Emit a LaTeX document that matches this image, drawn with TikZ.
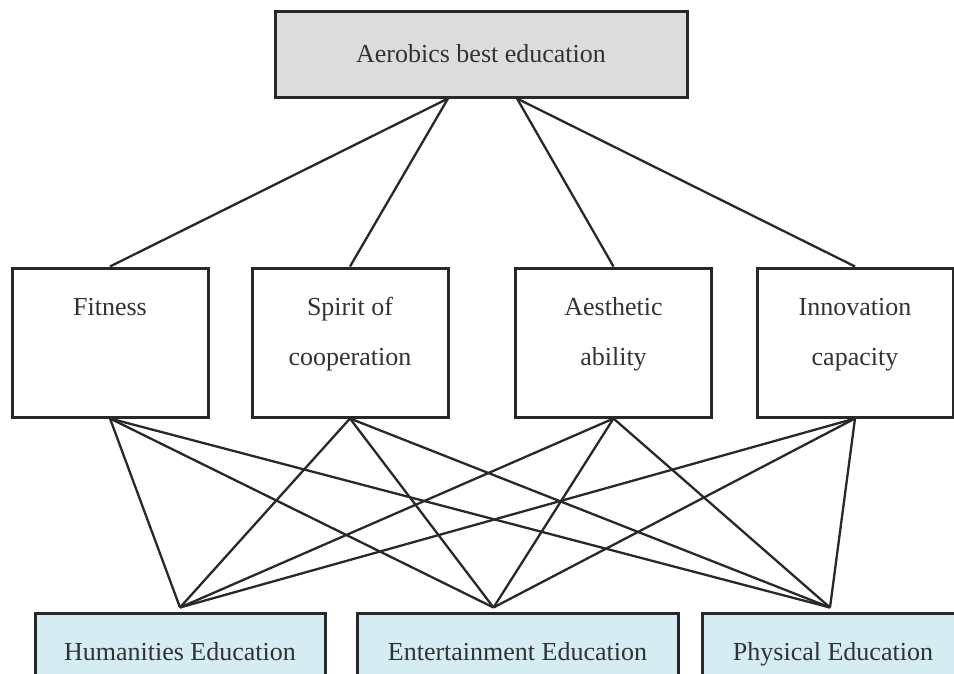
\documentclass[tikz,border=0pt]{standalone}
\usepackage{fontspec}
\setmainfont{Liberation Serif}

\definecolor{linegray}{RGB}{40,40,40}
\definecolor{textgray}{RGB}{50,50,50}
\definecolor{topfill}{RGB}{220,220,220}
\definecolor{botfill}{RGB}{213,236,243}

% text of the middle boxes sits at the top of the box
\newcommand\boxtext[1]{\parbox[c][149pt][t]{196pt}{\centering\rule{0pt}{47pt}#1}}

\begin{document}
\begin{tikzpicture}[x=1pt,y=-1pt,
  box/.style={draw=linegray,line width=3pt,inner sep=0pt,text=textgray,
    font=\fontsize{26}{50}\selectfont,align=center},
  topbox/.style={box,fill=topfill,minimum width=412pt,minimum height=86pt},
  midbox/.style={box,fill=white,minimum width=196pt,minimum height=149pt},
  botbox/.style={box,fill=botfill,minimum height=76pt,text height=21pt,text depth=3pt},
  link/.style={linegray,line width=2.3pt}]
\clip (0,0) rectangle (954,673);

\node[topbox] (top) at (481,54) {Aerobics best education};

\node[midbox] (fit) at (110,342.5) {\boxtext{Fitness}};
\node[midbox] (spi) at (350,342.5) {\boxtext{Spirit of\\cooperation}};
\node[midbox] (aes) at (613.5,342.5) {\boxtext{Aesthetic\\ability}};
\node[midbox] (inn) at (855,342.5) {\boxtext{Innovation\\capacity}};

\node[botbox,minimum width=290pt] (hum) at (180,651) {Humanities Education};
\node[botbox,minimum width=321pt] (ent) at (517.5,651) {Entertainment Education};
\node[botbox,minimum width=262pt] (phy) at (833,651) {Physical Education};

% meeting points of the lines
\coordinate (topL) at ([xshift=-33pt]top.south);
\coordinate (topR) at ([xshift=36pt]top.south);
\coordinate (humtop) at ([yshift=4pt]hum.north);
\coordinate (enttop) at ([xshift=-24pt,yshift=4pt]ent.north);
\coordinate (phytop) at ([xshift=-3pt,yshift=4pt]phy.north);

\draw[link] (topL) -- (fit.north);
\draw[link] (topL) -- (spi.north);
\draw[link] (topR) -- (aes.north);
\draw[link] (topR) -- (inn.north);

\foreach \m in {fit,spi,aes,inn}
  \foreach \b in {humtop,enttop,phytop}
    \draw[link] (\m.south) -- (\b);
\end{tikzpicture}
\end{document}
